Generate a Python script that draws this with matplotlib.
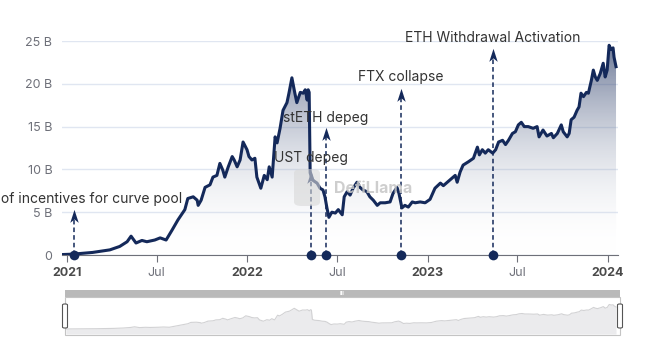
import numpy as np
import pandas as pd
import matplotlib
matplotlib.use("Agg")
import matplotlib.pyplot as plt
import matplotlib.dates as mdates
from matplotlib.path import Path
from matplotlib.patches import FancyBboxPatch, Rectangle

plt.rcParams['font.family'] = ['Inter', 'DejaVu Sans']

# TVL series (billions USD)
dates = [
    "2020-12-21", "2021-01-12", "2021-02-21", "2021-03-28", "2021-04-17", "2021-05-02",
    "2021-05-10", "2021-05-20", "2021-06-01", "2021-06-11", "2021-06-27", "2021-07-08",
    "2021-07-20", "2021-08-01", "2021-08-13", "2021-08-27", "2021-09-02", "2021-09-13",
    "2021-09-21", "2021-09-23", "2021-09-29", "2021-10-07", "2021-10-17", "2021-10-23",
    "2021-10-31", "2021-11-06", "2021-11-12", "2021-11-16", "2021-11-23", "2021-12-01",
    "2021-12-05", "2021-12-11", "2021-12-17", "2021-12-23", "2021-12-31", "2022-01-04",
    "2022-01-10", "2022-01-16", "2022-01-20", "2022-01-28", "2022-02-04", "2022-02-10",
    "2022-02-14", "2022-02-20", "2022-02-26", "2022-03-02", "2022-03-08", "2022-03-14",
    "2022-03-22", "2022-03-26", "2022-04-01", "2022-04-07", "2022-04-11", "2022-04-18",
    "2022-04-24", "2022-04-28", "2022-05-02", "2022-05-04", "2022-05-06", "2022-05-08",
    "2022-05-12", "2022-05-22", "2022-05-28", "2022-06-03", "2022-06-07", "2022-06-11",
    "2022-06-15", "2022-06-21", "2022-06-28", "2022-07-04", "2022-07-12", "2022-07-16",
    "2022-07-22", "2022-07-28", "2022-08-03", "2022-08-11", "2022-08-17", "2022-08-23",
    "2022-08-31", "2022-09-06", "2022-09-13", "2022-09-21", "2022-09-27", "2022-10-07",
    "2022-10-17", "2022-10-23", "2022-10-31", "2022-11-04", "2022-11-10", "2022-11-16",
    "2022-11-23", "2022-12-01", "2022-12-07", "2022-12-17", "2022-12-27", "2023-01-06",
    "2023-01-16", "2023-01-27", "2023-02-02", "2023-02-10", "2023-02-20", "2023-02-26",
    "2023-03-02", "2023-03-08", "2023-03-14", "2023-03-25", "2023-04-04", "2023-04-12",
    "2023-04-16", "2023-04-22", "2023-04-28", "2023-05-04", "2023-05-13", "2023-05-19",
    "2023-05-25", "2023-06-02", "2023-06-08", "2023-06-14", "2023-06-22", "2023-06-28",
    "2023-07-04", "2023-07-10", "2023-07-16", "2023-07-24", "2023-08-03", "2023-08-11",
    "2023-08-15", "2023-08-23", "2023-08-31", "2023-09-09", "2023-09-13", "2023-09-21",
    "2023-09-29", "2023-10-03", "2023-10-11", "2023-10-15", "2023-10-19", "2023-10-25",
    "2023-10-31", "2023-11-04", "2023-11-08", "2023-11-13", "2023-11-19", "2023-11-23",
    "2023-11-29", "2023-12-03", "2023-12-07", "2023-12-11", "2023-12-17", "2023-12-23",
    "2023-12-27", "2023-12-31", "2024-01-04", "2024-01-08", "2024-01-12", "2024-01-14",
    "2024-01-18",
]
tvl = [
    0.05, 0.1, 0.3, 0.6, 1.0, 1.55,
    2.2, 1.4, 1.7, 1.55, 1.75, 2.0,
    1.75, 2.9, 4.1, 5.3, 6.6, 6.8,
    6.4, 5.8, 6.4, 7.9, 8.2, 9.1,
    9.3, 10.7, 9.9, 9.1, 10.3, 11.5,
    11.1, 10.3, 11.1, 13.2, 12.3, 11.5,
    11.1, 11.3, 9.1, 7.8, 9.3, 8.8,
    10.3, 9.1, 13.8, 13.1, 14.8, 16.9,
    17.8, 18.9, 20.7, 18.9, 17.8, 19.0,
    18.9, 19.3, 18.1, 19.3, 19.0, 9.6,
    8.8, 8.4, 7.8, 7.6, 6.8, 5.5,
    4.4, 5.0, 4.9, 5.3, 4.7, 6.8,
    7.4, 7.0, 7.8, 8.5, 7.9, 7.6,
    7.4, 6.8, 6.4, 5.8, 6.1, 6.1,
    6.2, 7.2, 7.9, 7.2, 5.5, 5.8,
    5.6, 6.2, 6.1, 6.2, 6.1, 6.5,
    7.8, 8.4, 8.1, 8.5, 9.0, 9.3,
    8.5, 9.7, 10.5, 10.9, 11.3, 12.6,
    11.7, 12.3, 11.9, 12.3, 11.9, 12.3,
    13.2, 13.4, 12.9, 13.4, 14.2, 14.4,
    15.2, 15.5, 15.0, 15.0, 14.8, 15.0,
    13.8, 14.6, 13.9, 14.2, 13.7, 14.2,
    15.2, 14.4, 13.8, 14.2, 15.8, 16.1,
    16.9, 17.3, 18.9, 18.5, 19.0, 18.9,
    20.4, 21.6, 20.8, 20.4, 21.2, 22.4,
    20.8, 21.6, 24.5, 24.0, 24.2, 23.1,
    22.0,
]

# events: date, label, arrow tip value, label value
event_dates = ["2021-01-14", "2022-05-09", "2022-06-09", "2022-11-08", "2023-05-13"]
event_labels = ["Start of incentives for curve pool", "UST depeg", "stETH depeg",
                "FTX collapse", "ETH Withdrawal Activation"]
event_tips = [5.0, 9.6, 14.6, 19.2, 23.8]
event_text_y = [6.6, 11.3, 16.0, 20.8, 25.3]

yticks = [0, 5, 10, 15, 20, 25]
ytick_labels = ["0", "5 B", "10 B", "15 B", "20 B", "25 B"]
xtick_dates = ["2021-01-01", "2021-07-01", "2022-01-01", "2022-07-01",
               "2023-01-01", "2023-07-01", "2024-01-01"]
xtick_labels = ["2021", "Jul", "2022", "Jul", "2023", "Jul", "2024"]

navy = "#14295a"
x = pd.to_datetime(dates)
y = np.array(tvl)
xlim = (pd.Timestamp("2020-12-21"), pd.Timestamp("2024-01-22"))

W, H = 651, 337
fig = plt.figure(figsize=(W / 100, H / 100), dpi=100)
ax = fig.add_axes([62 / W, 1 - 255 / H, 556 / W, 214 / H])

ax.set_xlim(xlim)
ax.set_ylim(0, 25)

# gradient fill under the line
poly = ax.fill_between(x, y, 0, color="none", lw=0)
grad = np.linspace(0, 1, 256).reshape(-1, 1)
cmap = matplotlib.colors.LinearSegmentedColormap.from_list(
    "fade", [(1, 1, 1, 0), (0.08, 0.16, 0.35, 0.62)])
xn = mdates.date2num(xlim)
img = ax.imshow(grad, cmap=cmap, aspect="auto", origin="lower",
                extent=[xn[0], xn[1], 0, max(tvl)], zorder=1)
clip = Path.make_compound_path(*poly.get_paths())
img.set_clip_path(clip, transform=ax.transData)

ax.plot(x, y, color=navy, lw=2.2, zorder=3, solid_joinstyle="round")

# event markers
head = Path([(0, 1), (0.55, -0.7), (0, -0.25), (-0.55, -0.7), (0, 1)],
            [Path.MOVETO, Path.LINETO, Path.LINETO, Path.LINETO, Path.CLOSEPOLY])
for d, lab, tip, ty in zip(event_dates, event_labels, event_tips, event_text_y):
    dt = pd.Timestamp(d)
    ax.plot([dt, dt], [0, tip - 0.6], color=navy, lw=1.1, ls=(0, (3, 2)), zorder=4)
    ax.plot([dt], [tip - 0.6], marker=head, ms=11, color=navy, mew=0, zorder=5,
            clip_on=False)
    ax.plot([dt], [0], marker="o", ms=7, color=navy, mew=0, zorder=6, clip_on=False)
    ax.text(dt, ty, lab, ha="center", va="center", fontsize=10, color="#333333",
            zorder=7, clip_on=False)

# watermark
fig.patches.append(FancyBboxPatch((294 / W, 1 - 206 / H), 26 / W, 37 / H,
                                  boxstyle="round,pad=0,rounding_size=0.012",
                                  transform=fig.transFigure, fc="#d8d8d8",
                                  ec="none", alpha=0.6, zorder=0))
fig.text(334 / W, 1 - 188 / H, "DefiLlama", fontsize=11.5, fontweight="bold",
         color="#c6c6c6", va="center", ha="left", alpha=0.85)

ax.set_yticks(yticks)
ax.set_yticklabels(ytick_labels)
ax.set_xticks(pd.to_datetime(xtick_dates))
ax.set_xticklabels(xtick_labels)
for lbl, txt in zip(ax.get_xticklabels(), xtick_labels):
    if txt != "Jul":
        lbl.set_fontweight("bold")
        lbl.set_color("#4a4a4a")
    else:
        lbl.set_color("#6e7079")
ax.tick_params(axis="x", length=5, color="#6e7079", labelsize=9, pad=4)
ax.tick_params(axis="y", length=0, labelsize=9, labelcolor="#6e7079", pad=7)
ax.grid(axis="y", color="#e0e6f1", lw=1)
ax.set_axisbelow(True)
for s in ["top", "right", "left"]:
    ax.spines[s].set_visible(False)
ax.spines["bottom"].set_color("#6e7079")
ax.spines["bottom"].set_zorder(2)

# range slider below the chart
fig.patches.append(Rectangle((65 / W, 1 - 297 / H), 555 / W, 7 / H,
                             transform=fig.transFigure, fc="#b9b9b9", ec="none"))
fig.text(342 / W, 1 - 293.5 / H, "III", fontsize=4, color="white",
         ha="center", va="center", fontweight="bold")
sax = fig.add_axes([66 / W, 1 - 334 / H, 552 / W, 36 / H])
sax.set_xlim(xlim)
sax.set_ylim(-5, 31)
sax.fill_between(x, y, -5, color="#ebebed", lw=0)
sax.plot(x, y, color="#d2d2d4", lw=0.8)
sax.set_xticks([])
sax.set_yticks([])
for s in sax.spines.values():
    s.set_visible(False)
fig.patches.append(Rectangle((65 / W, 1 - 335 / H), 555 / W, 38 / H,
                             transform=fig.transFigure, fc="none", ec="#c4c4c4",
                             lw=0.8))
for hx in (65, 620):
    fig.patches.append(FancyBboxPatch(((hx - 2.5) / W, 1 - 328 / H), 5 / W, 24 / H,
                                      boxstyle="round,pad=0,rounding_size=0.003",
                                      transform=fig.transFigure, fc="white",
                                      ec="#555555", lw=0.8, zorder=5))

fig.savefig("out.png", dpi=100)
